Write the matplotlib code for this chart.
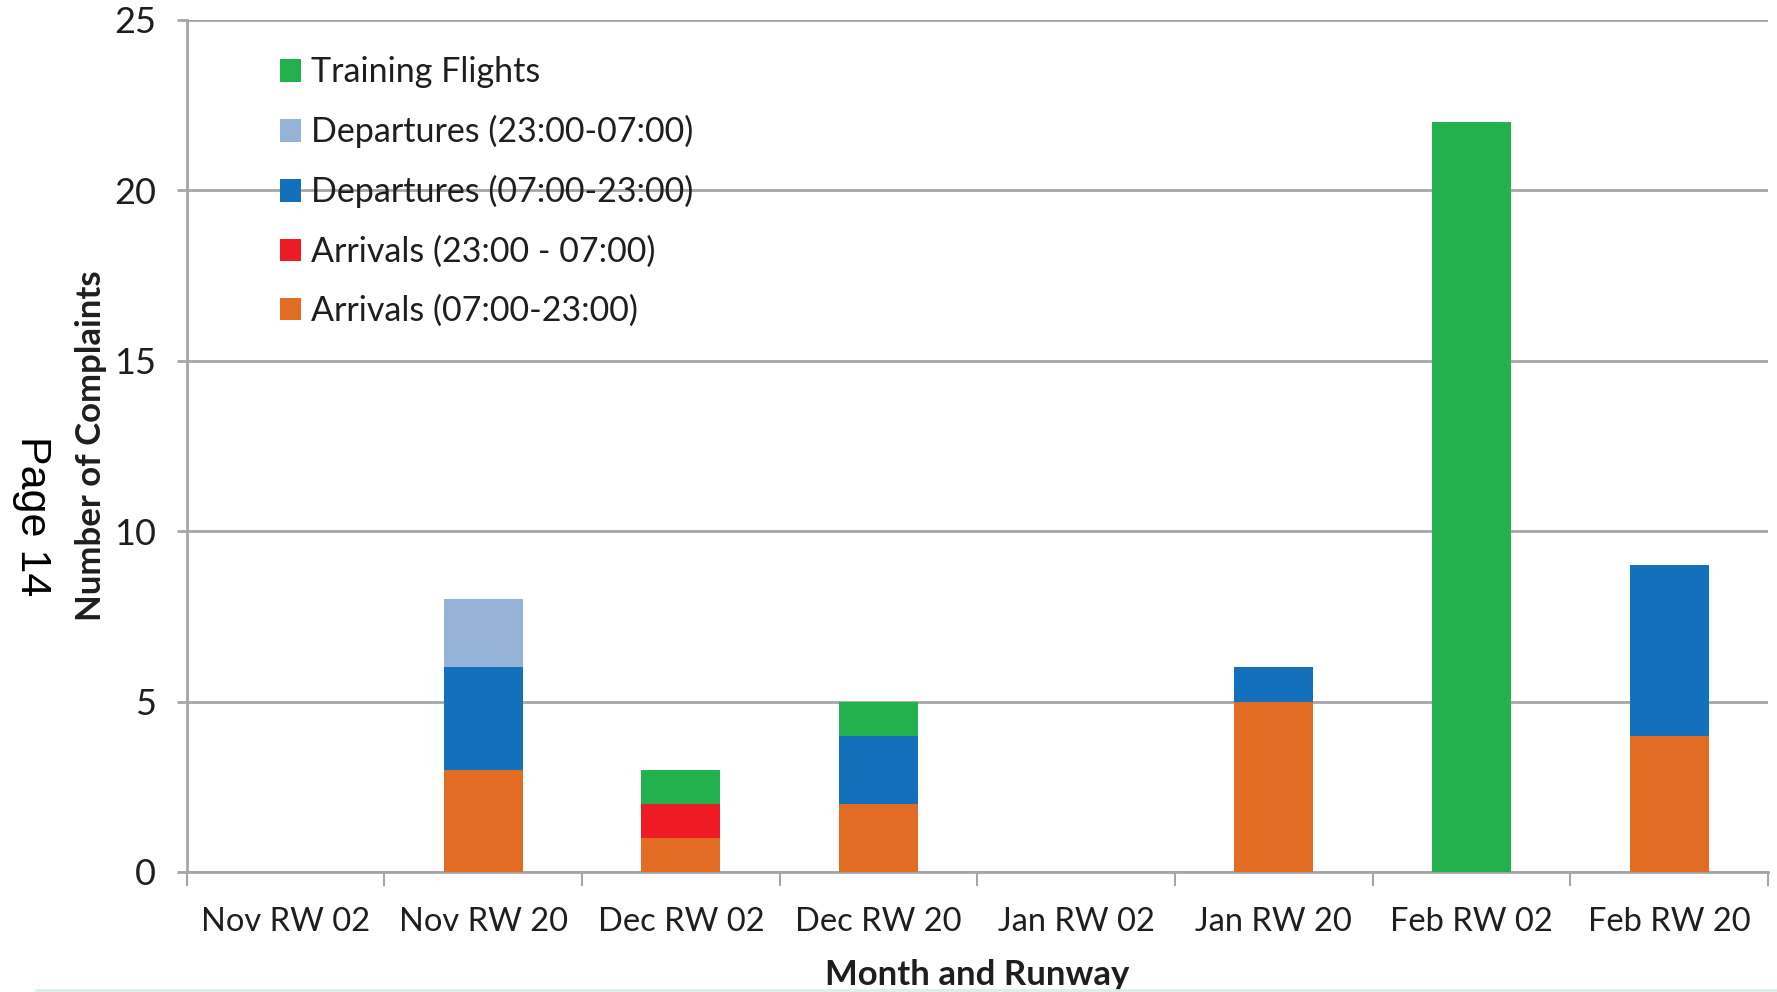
import numpy as np
import matplotlib
matplotlib.use("Agg")
import matplotlib.pyplot as plt
from matplotlib.lines import Line2D

plt.rcParams["font.family"] = ["Lato", "DejaVu Sans"]

categories = ["Nov RW 02", "Nov RW 20", "Dec RW 02", "Dec RW 20",
              "Jan RW 02", "Jan RW 20", "Feb RW 02", "Feb RW 20"]
arr_day = [0, 3, 1, 2, 0, 5, 0, 4]
arr_night = [0, 0, 1, 0, 0, 0, 0, 0]
dep_day = [0, 3, 0, 2, 0, 1, 0, 5]
dep_night = [0, 2, 0, 0, 0, 0, 0, 0]
training = [0, 0, 1, 1, 0, 0, 22, 0]

series = [
    ("Arrivals (07:00-23:00)", arr_day, "#E36C25"),
    ("Arrivals (23:00 - 07:00)", arr_night, "#ED1C24"),
    ("Departures (07:00-23:00)", dep_day, "#1370BA"),
    ("Departures (23:00-07:00)", dep_night, "#95B3D7"),
    ("Training Flights", training, "#23B14D"),
]

TXT = "#1E1E1E"

fig = plt.figure(figsize=(17.77, 9.92), dpi=100)
ax = fig.add_axes([0.105, 0.121, 0.890, 0.859])

x = np.arange(len(categories))
bottom = np.zeros(len(categories))
handles = []
for label, vals, col in series:
    vals = np.array(vals, dtype=float)
    b = ax.bar(x, vals, width=0.4, bottom=bottom, color=col, label=label,
               edgecolor="none", zorder=3)
    handles.append(b)
    bottom += vals

ax.set_xlim(-0.5, len(categories) - 0.5)
ax.set_ylim(0, 25)
ax.set_yticks([0, 5, 10, 15, 20, 25])
ax.yaxis.grid(True, color="#A6A6A6", linewidth=2, zorder=0)
ax.set_axisbelow(True)

ax.set_xticks(x)
ax.set_xticklabels(categories, fontsize=23.5, color=TXT)
ax.tick_params(axis="x", length=0, pad=25)
ax.set_xticks(np.arange(-0.5, len(categories)), minor=True)
ax.tick_params(axis="x", which="minor", length=10, width=1.5, color="#A6A6A6")
ax.tick_params(axis="y", labelsize=26, labelcolor=TXT, length=7,
               width=2, color="#A6A6A6", pad=15)

for s in ["top", "right"]:
    ax.spines[s].set_visible(False)
for s in ["left", "bottom"]:
    ax.spines[s].set_color("#A6A6A6")
    ax.spines[s].set_linewidth(2)

ax.set_ylabel("Number of Complaints", fontsize=25, fontweight="bold",
              color=TXT, labelpad=5)
ax.set_xlabel("Month and Runway", fontsize=25, fontweight="bold",
              color=TXT, labelpad=16)

leg = ax.legend(handles[::-1], [s[0] for s in series][::-1],
                loc="upper left", bbox_to_anchor=(0.059, 0.957),
                frameon=False, fontsize=24.5, handlelength=0.62, handleheight=0.62,
                handletextpad=0.3, labelspacing=0.79, borderpad=0,
                borderaxespad=0)
for t in leg.get_texts():
    t.set_color(TXT)

fig.text(0.018, 0.48, "Page 14", rotation=-90, fontsize=31,
         family="Liberation Sans", ha="center", va="center")
fig.add_artist(Line2D([0.02, 1.0], [0.002, 0.002], color="#D9EFEF", linewidth=2))

fig.savefig("out.png", dpi=100)
